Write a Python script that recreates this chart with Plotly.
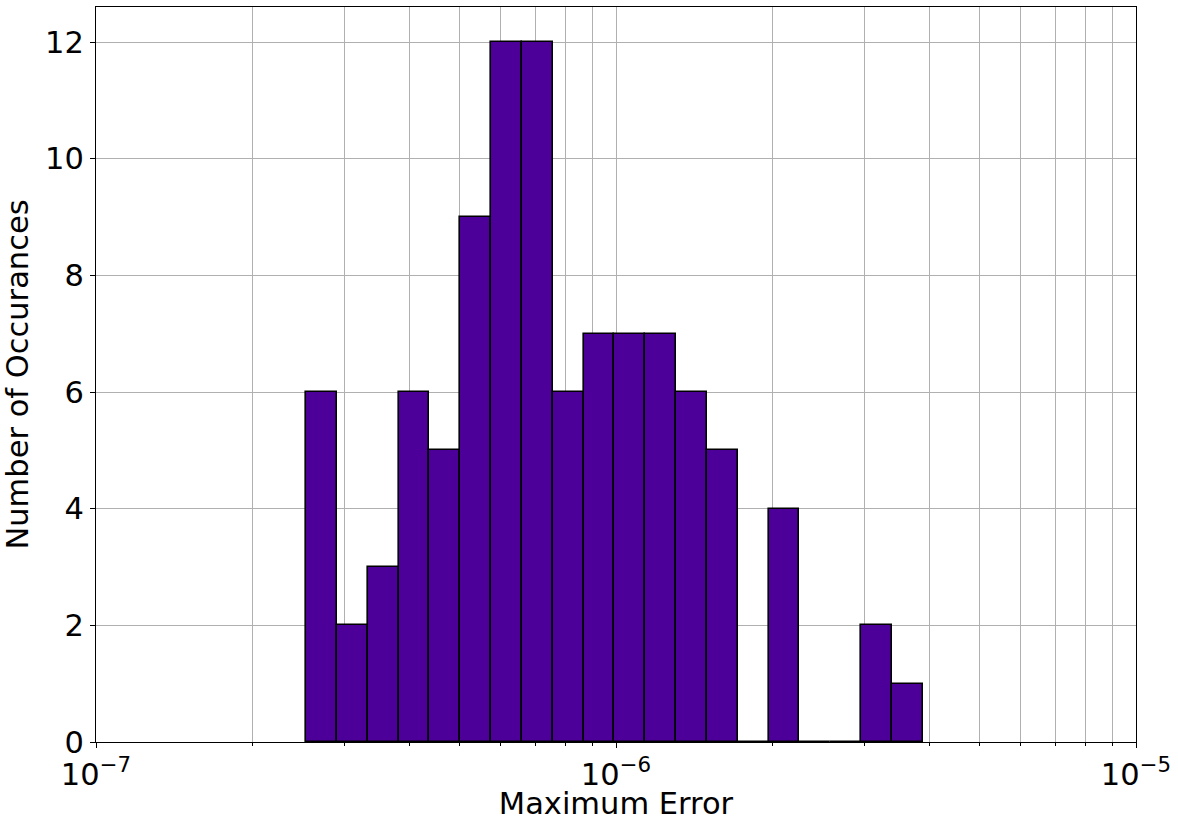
import numpy as np
import plotly.graph_objects as go

# Histogram bin edges (Maximum Error, log-spaced) and counts
bin_edges = [2.535e-7, 2.905e-7, 3.330e-7, 3.818e-7, 4.377e-7, 5.017e-7, 5.751e-7,
             6.593e-7, 7.557e-7, 8.663e-7, 9.931e-7, 1.1384e-6, 1.3050e-6, 1.4960e-6,
             1.7148e-6, 1.9658e-6, 2.2535e-6, 2.5833e-6, 2.9613e-6, 3.3946e-6, 3.8905e-6]
counts = [6, 2, 3, 6, 5, 9, 12, 12, 6, 7, 7, 7, 6, 5, 0, 4, 0, 0, 2, 1]

x_decades = [-7, -6, -5]
x_tick_text = ["10<sup>\u22127</sup>", "10<sup>\u22126</sup>", "10<sup>\u22125</sup>"]
y_ticks = [0, 2, 4, 6, 8, 10, 12]

log_edges = np.log10(np.array(bin_edges))
centers = (log_edges[:-1] + log_edges[1:]) / 2
widths = np.diff(log_edges)

minor_vals = [d + np.log10(k) for d in x_decades[:-1] for k in range(2, 10)]

FONT = "DejaVu Sans"
FS = 30.5
fig = go.Figure()
fig.add_trace(go.Bar(
    x=centers, y=counts, width=widths,
    marker=dict(color="#4c0099", line=dict(color="black", width=1.6)),
    hovertemplate="%{y}<extra></extra>",
))

fig.update_layout(
    width=1178, height=821,
    margin=dict(l=96, r=42, t=7, b=79),
    paper_bgcolor="white", plot_bgcolor="white",
    bargap=0, showlegend=False,
    font=dict(family=FONT, size=FS, color="black"),
)
fig.update_xaxes(
    range=[-7, -5], automargin=False,
    tickmode="array", tickvals=x_decades, ticktext=x_tick_text,
    ticks="outside", ticklen=5, tickwidth=1, tickcolor="black",
    showgrid=True, gridcolor="#b0b0b0", gridwidth=1.1,
    minor=dict(tickmode="array", tickvals=minor_vals, ticks="outside", ticklen=3,
               tickwidth=1, tickcolor="black", showgrid=True, gridcolor="#b0b0b0", gridwidth=1.1),
    showline=True, linecolor="black", linewidth=1.2, mirror=True,
    zeroline=False,
    tickfont=dict(family=FONT, size=FS),
    title=dict(text="Maximum Error", font=dict(family=FONT, size=FS), standoff=6),
)
fig.update_yaxes(
    range=[0, 12.6], automargin=False,
    tickmode="array", tickvals=y_ticks,
    ticks="outside", ticklen=5, tickwidth=1, tickcolor="black",
    showgrid=True, gridcolor="#b0b0b0", gridwidth=1.1,
    showline=True, linecolor="black", linewidth=1.2, mirror=True,
    zeroline=False,
    tickfont=dict(family=FONT, size=FS),
    title=dict(text="Number of Occurances", font=dict(family=FONT, size=FS), standoff=8),
)

fig.write_html("out.html")
